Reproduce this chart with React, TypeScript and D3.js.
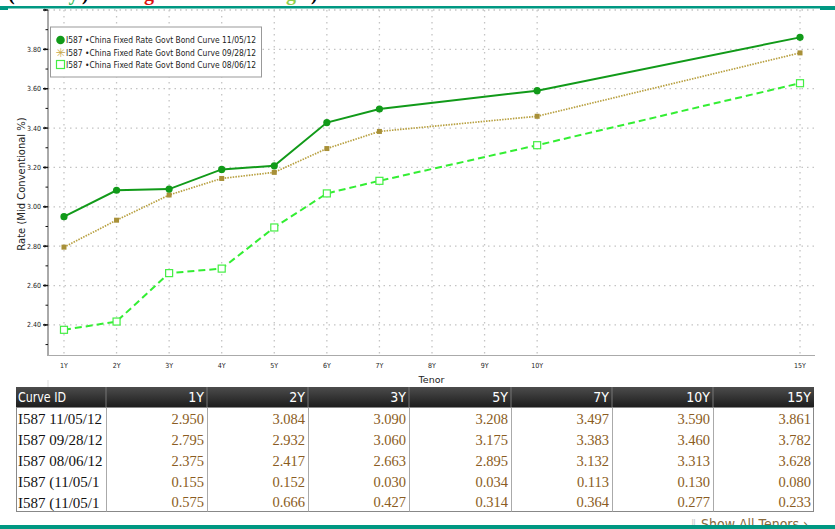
import React from "react";
import * as d3 from "d3";

const tenorYears = [1, 2, 3, 4, 5, 6, 7, 10, 15];
const tickYears = [1, 2, 3, 4, 5, 6, 7, 8, 9, 10, 15];
const curve1105 = [2.95, 3.084, 3.09, 3.19, 3.208, 3.428, 3.497, 3.59, 3.861];
const curve0928 = [2.795, 2.932, 3.06, 3.144, 3.175, 3.296, 3.383, 3.46, 3.782];
const curve0806 = [2.375, 2.417, 2.663, 2.686, 2.895, 3.068, 3.132, 3.313, 3.628];
const yMajorTicks = [2.4, 2.6, 2.8, 3.0, 3.2, 3.4, 3.6, 3.8];
const legendLabels = [
  "I587 \u2022China Fixed Rate Govt Bond Curve 11/05/12",
  "I587 \u2022China Fixed Rate Govt Bond Curve 09/28/12",
  "I587 \u2022China Fixed Rate Govt Bond Curve 08/06/12",
];
const tableColumns = ["Curve ID", "1Y", "2Y", "3Y", "5Y", "7Y", "10Y", "15Y"];
const rowIds = ["I587 11/05/12", "I587 09/28/12", "I587 08/06/12", "I587 (11/05/1", "I587 (11/05/1"];
const row1 = [2.95, 3.084, 3.09, 3.208, 3.497, 3.59, 3.861];
const row2 = [2.795, 2.932, 3.06, 3.175, 3.383, 3.46, 3.782];
const row3 = [2.375, 2.417, 2.663, 2.895, 3.132, 3.313, 3.628];
const row4 = [0.155, 0.152, 0.03, 0.034, 0.113, 0.13, 0.08];
const row5 = [0.575, 0.666, 0.427, 0.314, 0.364, 0.277, 0.233];

const W = 835;
const H = 529;
const TEAL = "#009882";
const NARROW = "'DejaVu Sans Condensed', 'DejaVu Sans', sans-serif";

export default function App() {
  const x = d3.scaleLinear().domain([0.696, 15.285]).range([48, 815]);
  const y = d3.scaleLinear().domain([2.247, 4.0]).range([355, 10]);
  const line = d3
    .line<[number, number]>()
    .x((d) => x(d[0]))
    .y((d) => y(d[1]));
  const pts = (vals: number[]) => tenorYears.map((t, i) => [t, vals[i]] as [number, number]);
  const minorTicks = d3.range(2.3, 4.0, 0.2);
  const gridY = [...yMajorTicks, 4.0];

  const colEdges = [16, 106, 207, 308, 409, 511, 612, 713, 814];
  const headerTop = 387;
  const headerH = 20.5;
  const rowH = 20.8;
  const rows = [row1, row2, row3, row4, row5];

  return (
    <svg
      width={W}
      height={H}
      style={{ position: "absolute", left: 0, top: 0, display: "block", background: "#fff" }}
    >
      <defs>
        <linearGradient id="hdr" x1="0" x2="0" y1="0" y2="1">
          <stop offset="0" stopColor="#4c4c4c" />
          <stop offset="1" stopColor="#1c1c1c" />
        </linearGradient>
      </defs>
      <rect x={0} y={0} width={W} height={H} fill="#fff" />

      {/* title (clipped at the top edge, as in the original screenshot) */}
      <g fontFamily="'Liberation Serif', serif" fontSize={20} fontWeight="bold">
        <text x={8} y={0} fill="#000">(</text>
        <text x={33} y={0} fill="#33bb55">Daily</text>
        <text x={82} y={0} fill="#000">)</text>
        <text x={123} y={0} fill="#dd1111">High</text>
        <text x={180} y={0} fill="#aaa">and Low</text>
        <text x={263} y={0} fill="#8fd04a">Avg</text>
        <text x={311} y={0} fill="#000">)</text>
      </g>
      <rect x={0} y={6} width={W} height={2.5} fill={TEAL} />
      <rect x={0} y={7} width={8} height={3} fill={TEAL} />
      <rect x={820} y={6} width={15} height={4} fill={TEAL} />

      {/* grid */}
      {gridY.map((v) => (
        <line
          key={"gy" + v}
          x1={48}
          x2={815}
          y1={y(v)}
          y2={y(v)}
          stroke="#c4c4c4"
          strokeWidth={1.3}
          strokeDasharray="1.5,4"
        />
      ))}
      {tickYears.map((t) => (
        <line
          key={"gx" + t}
          x1={x(t)}
          x2={x(t)}
          y1={10}
          y2={355}
          stroke="#c4c4c4"
          strokeWidth={1.3}
          strokeDasharray="1.5,4.5"
        />
      ))}

      {/* axes */}
      <line x1={48} x2={48} y1={10} y2={356} stroke="#555" strokeWidth={1} />
      <line x1={48} x2={815} y1={355.5} y2={355.5} stroke="#aaa" strokeWidth={1} />
      <line x1={48} x2={48} y1={380} y2={387} stroke="#ddd" strokeWidth={1} />
      {gridY.map((v) => (
        <g key={"yt" + v}>
          <line x1={43} x2={48} y1={y(v)} y2={y(v)} stroke="#111" strokeWidth={1.4} />
          <path d={`M44.5,${y(v) - 1.5}L47,${y(v)}L44.5,${y(v) + 1.5}Z`} fill="#111" />
        </g>
      ))}
      {minorTicks.map((v) => (
        <line key={"mt" + v} x1={45.5} x2={48} y1={y(v)} y2={y(v)} stroke="#111" strokeWidth={1} />
      ))}
      {yMajorTicks.map((v) => (
        <text
          key={"yl" + v}
          x={41}
          y={y(v)}
          dy="0.35em"
          textAnchor="end"
          fontFamily={NARROW}
          fontSize={7}
          fill="#222"
        >
          {v.toFixed(2)}
        </text>
      ))}
      {tickYears.map((t) => (
        <text
          key={"xl" + t}
          x={x(t)}
          y={367.5}
          textAnchor="middle"
          fontFamily={NARROW}
          fontSize={7}
          fill="#222"
        >
          {t + "Y"}
        </text>
      ))}
      <text
        transform={`translate(25,${184}) rotate(-90)`}
        textAnchor="middle"
        fontFamily="'DejaVu Sans', sans-serif"
        fontSize={10}
        fill="#222"
      >
        Rate (Mid Conventional %)
      </text>
      <text x={431.5} y={383} textAnchor="middle" fontFamily="'DejaVu Sans', sans-serif" fontSize={9.5} fill="#222">
        Tenor
      </text>

      {/* series */}
      <path d={line(pts(curve0806)) || ""} fill="none" stroke="#33ee33" strokeWidth={2} strokeDasharray="7,4" />
      <path d={line(pts(curve0928)) || ""} fill="none" stroke="#b8a040" strokeWidth={1.7} strokeDasharray="1.5,1.2" />
      <path d={line(pts(curve1105)) || ""} fill="none" stroke="#119a19" strokeWidth={2} />
      {pts(curve0806).map((p, i) => (
        <rect
          key={"m3" + i}
          x={x(p[0]) - 3.5}
          y={y(p[1]) - 3.5}
          width={7}
          height={7}
          fill="#fff"
          stroke="#44ee44"
          strokeWidth={1.2}
        />
      ))}
      {pts(curve0928).map((p, i) => (
        <rect
          key={"m2" + i}
          x={x(p[0]) - 2.5}
          y={y(p[1]) - 2.5}
          width={5}
          height={5}
          fill="#a89038"
        />
      ))}
      {pts(curve1105).map((p, i) => (
        <circle key={"m1" + i} cx={x(p[0])} cy={y(p[1])} r={3.6} fill="#119a19" />
      ))}

      {/* legend */}
      <rect x={50.5} y={27} width={211} height={50} fill="#fff" stroke="#999" strokeWidth={1} />
      <circle cx={60.5} cy={40} r={4.3} fill="#119a19" />
      <text x={60.5} y={56.5} textAnchor="middle" fontSize={12} fill="#c8a848" fontFamily="'DejaVu Sans', sans-serif">
        {"\u2733"}
      </text>
      <rect x={56.5} y={60.5} width={8} height={8} fill="#fff" stroke="#44ee44" strokeWidth={1.2} />
      {legendLabels.map((l, i) => (
        <text
          key={"lg" + i}
          x={66}
          y={40 + i * 12.2}
          dy="0.35em"
          fontFamily={NARROW}
          fontSize={9.5}
          fill="#222"
          textLength={190}
          lengthAdjust="spacingAndGlyphs"
        >
          {l}
        </text>
      ))}

      {/* table */}
      <rect x={colEdges[0]} y={headerTop} width={colEdges[8] - colEdges[0]} height={headerH} fill="url(#hdr)" />
      {colEdges.slice(1, 8).map((cx, i) => (
        <line key={"hs" + i} x1={cx} x2={cx} y1={headerTop} y2={headerTop + headerH} stroke="#777" strokeWidth={1} />
      ))}
      {tableColumns.map((c, i) => (
        <text
          key={"hc" + i}
          x={i === 0 ? colEdges[0] + 2 : colEdges[i + 1] - 3}
          y={headerTop + headerH / 2}
          dy="0.36em"
          textAnchor={i === 0 ? "start" : "end"}
          fontFamily={NARROW}
          fontSize={14}
          fill="#fff"
          {...(i === 0 ? { textLength: 48, lengthAdjust: "spacingAndGlyphs" } : {})}
        >
          {c}
        </text>
      ))}
      <rect
        x={colEdges[0] + 0.5}
        y={headerTop + headerH}
        width={colEdges[8] - colEdges[0] - 1}
        height={rowH * 5}
        fill="#fff"
        stroke="#888"
        strokeWidth={1}
      />
      {colEdges.slice(1, 8).map((cx, i) => (
        <line
          key={"vs" + i}
          x1={cx + 0.5}
          x2={cx + 0.5}
          y1={headerTop + headerH}
          y2={headerTop + headerH + rowH * 5}
          stroke="#aaa"
          strokeWidth={1}
        />
      ))}
      {rowIds.map((id, r) => (
        <g key={"row" + r}>
          <text
            x={colEdges[0] + 2}
            y={headerTop + headerH + rowH * r + rowH / 2 + 1}
            dy="0.36em"
            fontFamily="'Liberation Serif', serif"
            fontSize={15}
            fill="#111"
          >
            {id}
          </text>
          {rows[r].map((v, c) => (
            <text
              key={"c" + c}
              x={colEdges[c + 2] - 3}
              y={headerTop + headerH + rowH * r + rowH / 2 + 1}
              dy="0.36em"
              textAnchor="end"
              fontFamily="'Liberation Serif', serif"
              fontSize={14.5}
              fill="#8a5c22"
            >
              {v.toFixed(3)}
            </text>
          ))}
        </g>
      ))}

      <text x={691} y={528} fontFamily={NARROW} fontSize={12} fill="#ccc">
        {"\u2225"}
      </text>
      <text x={701} y={528.5} fontFamily={NARROW} fontSize={14} fill="#8a6a3c">
        {"Show All Tenors \u203A"}
      </text>
      <rect x={0} y={525} width={W} height={4} fill={TEAL} />
    </svg>
  );
}
